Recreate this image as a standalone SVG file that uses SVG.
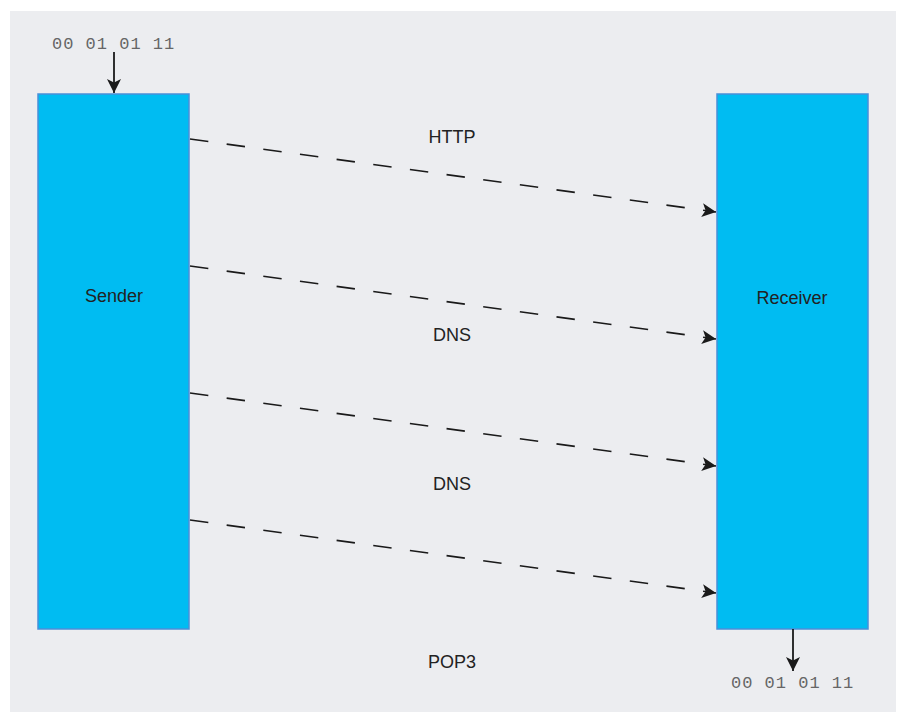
<svg xmlns="http://www.w3.org/2000/svg" width="901" height="712" viewBox="0 0 901 712">
  <defs>
    <style>
      .box { fill: #00bcf2; stroke: #4a8fd8; stroke-width: 1.5; }
      .lbl { font-family: "Liberation Sans", Arial, sans-serif; font-size: 18px; fill: #222; text-anchor: middle; }
      .bits { font-family: "Liberation Mono", "DejaVu Sans Mono", monospace; font-size: 17px; fill: #666; letter-spacing: 1px; }
      .dash { stroke: #1a1a1a; stroke-width: 1.6; fill: none; stroke-dasharray: 18.5 18.5; }
      .solid { stroke: #1a1a1a; stroke-width: 1.8; fill: none; }
    </style>
    <marker id="ah" viewBox="0 0 10 10" refX="10" refY="5" markerWidth="16" markerHeight="14" markerUnits="userSpaceOnUse" orient="auto">
      <path d="M0,0 L10,5 L0,10 L2.5,5 Z" fill="#1a1a1a"/>
    </marker>
    <marker id="ah2" viewBox="0 0 10 10" refX="10" refY="5" markerWidth="17" markerHeight="14" markerUnits="userSpaceOnUse" orient="auto">
      <path d="M0,0 L10,5 L0,10 L2.5,5 Z" fill="#1a1a1a"/>
    </marker>
  </defs>
  <rect x="10" y="11" width="886" height="701" fill="#ecedf0"/>

  <g id="sender">
    <rect class="box" x="38" y="94" width="151" height="535"/>
    <text class="lbl" x="114" y="302">Sender</text>
  </g>
  <g id="receiver">
    <rect class="box" x="717" y="94" width="151" height="535"/>
    <text class="lbl" x="792" y="304">Receiver</text>
  </g>
  <g id="input">
    <text class="bits" x="52" y="49">00 01 01 11</text>
  </g>
  <g id="output">
    <text class="bits" x="731" y="688">00 01 01 11</text>
  </g>
  <g id="labels">
    <text class="lbl" x="452" y="143">HTTP</text>
    <text class="lbl" x="452" y="341">DNS</text>
    <text class="lbl" x="452" y="490">DNS</text>
    <text class="lbl" x="452" y="668">POP3</text>
  </g>

  <g id="connectors">
    <line class="solid" x1="114" y1="52" x2="114" y2="93" marker-end="url(#ah)"/>
    <line class="solid" x1="793" y1="629" x2="793" y2="671" marker-end="url(#ah)"/>
    <line class="dash" x1="190" y1="139" x2="716" y2="212" marker-end="url(#ah2)"/>
    <line class="dash" x1="190" y1="266" x2="716" y2="339" marker-end="url(#ah2)"/>
    <line class="dash" x1="190" y1="393" x2="716" y2="466" marker-end="url(#ah2)"/>
    <line class="dash" x1="190" y1="520" x2="716" y2="593" marker-end="url(#ah2)"/>
  </g>
</svg>
